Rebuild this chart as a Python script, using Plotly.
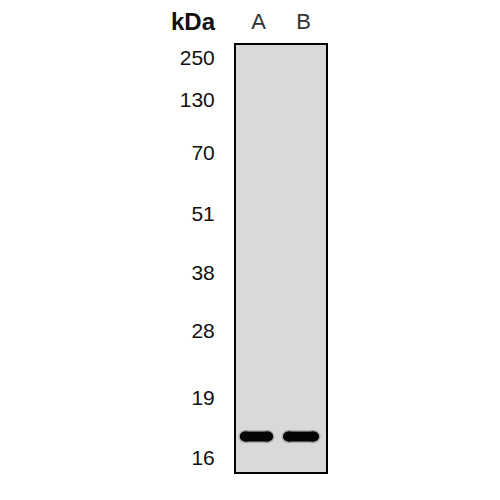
import plotly.graph_objects as go

# western blot: marker ladder (kDa) and their migration (fraction of gel height)
marker_kda = ["250", "130", "70", "51", "38", "28", "19", "16"]
marker_migration = [0.030, 0.129, 0.252, 0.395, 0.533, 0.669, 0.826, 0.966]

lanes = ["A", "B"]
lane_pos = [-0.045, 0.945]
band_migration = [0.917, 0.917]
band_halfwidth = [0.26, 0.29]

fig = go.Figure()

for pos, mig, hw in zip(lane_pos, band_migration, band_halfwidth):
    # soft halo
    fig.add_trace(go.Scatter(
        x=[pos - hw, pos + hw], y=[mig, mig], mode="lines+markers",
        line=dict(color="rgba(60,60,60,0.25)", width=13),
        marker=dict(color="rgba(60,60,60,0.25)", size=13),
        hoverinfo="skip", showlegend=False))
    fig.add_trace(go.Scatter(
        x=[pos - hw, pos + hw], y=[mig, mig], mode="lines+markers",
        line=dict(color="#050505", width=10),
        marker=dict(color="#050505", size=10),
        showlegend=False))

fig.add_annotation(text="<b>kDa</b>", xref="paper", yref="paper",
                   x=-0.2, y=1.056, xanchor="right", yanchor="middle",
                   showarrow=False,
                   font=dict(family="Liberation Sans", size=24, color="#111111"))

fig.update_xaxes(range=[-0.5, 1.5], side="top", tickvals=[0, 1], ticktext=lanes,
                 showgrid=False, zeroline=False, ticks="", automargin=False,
                 ticklabelstandoff=5,
                 tickfont=dict(family="Liberation Sans", size=22, color="#333333"),
                 showline=True, linecolor="black", linewidth=2, mirror=True)
fig.update_yaxes(range=[1, 0], tickvals=marker_migration, ticktext=marker_kda,
                 showgrid=False, zeroline=False, ticks="", automargin=False,
                 ticklabelstandoff=15,
                 tickfont=dict(family="Liberation Sans", size=21, color="#111111"),
                 showline=True, linecolor="black", linewidth=2, mirror=True)

fig.update_layout(width=500, height=500,
                  margin=dict(l=228, r=182, t=37, b=36),
                  plot_bgcolor="#d9d9d9", paper_bgcolor="white")

fig.write_html("out.html")
